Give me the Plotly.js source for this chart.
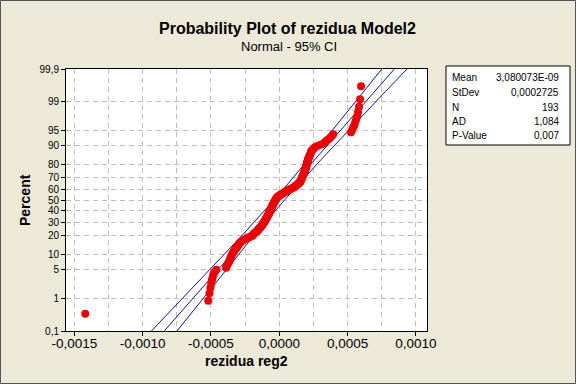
<!DOCTYPE html>
<html><head><meta charset="utf-8">
<script src="https://cdn.plot.ly/plotly-3.0.1.min.js"></script>
<style>html,body{margin:0;padding:0;background:#ECE9D8;}#chart{width:576px;height:384px;}</style>
</head><body><div id="chart"></div>
<script>
const chartTitle = "Probability Plot of rezidua Model2";
const chartSubtitle = "Normal - 95% CI";
const xAxisTitle = "rezidua reg2";
const yAxisTitle = "Percent";

// sorted residuals
const residuals = [
 -1420e-6,-520e-6,-511e-6,-504e-6,-498e-6,-493e-6,-487e-6,-482e-6,-473e-6,-460e-6,
 -390e-6,-384e-6,-377e-6,-370e-6,-364e-6,-360e-6,-356e-6,-353e-6,-349e-6,-345e-6,
 -339e-6,-333e-6,-327e-6,-321e-6,-315e-6,-310e-6,-305e-6,-301e-6,-296e-6,-291e-6,
 -285e-6,-277e-6,-267e-6,-258e-6,-247e-6,-234e-6,-222e-6,-209e-6,-198e-6,-193e-6,
 -187e-6,-181e-6,-175e-6,-169e-6,-163e-6,-157e-6,-153e-6,-149e-6,-145e-6,-141e-6,
 -136e-6,-133e-6,-128e-6,-124e-6,-122e-6,-119e-6,-116e-6,-112e-6,-109e-6,-106e-6,
 -104e-6,-102e-6,-100e-6,-97e-6,-94e-6,-92e-6,-90e-6,-87e-6,-85e-6,-83e-6,
 -81e-6,-78e-6,-75e-6,-73e-6,-71e-6,-70e-6,-67e-6,-66e-6,-64e-6,-62e-6,
 -60e-6,-59e-6,-56e-6,-55e-6,-53e-6,-51e-6,-49e-6,-48e-6,-45e-6,-43e-6,
 -41e-6,-39e-6,-37e-6,-34e-6,-32e-6,-30e-6,-28e-6,-25e-6,-23e-6,-21e-6,
 -18e-6,-15e-6,-10e-6,-5e-6,0,6e-6,12e-6,19e-6,26e-6,32e-6,
 38e-6,45e-6,51e-6,58e-6,67e-6,75e-6,83e-6,92e-6,101e-6,109e-6,
 114e-6,119e-6,124e-6,130e-6,134e-6,139e-6,144e-6,149e-6,152e-6,154e-6,
 157e-6,158e-6,160e-6,163e-6,165e-6,167e-6,168e-6,171e-6,173e-6,175e-6,
 177e-6,179e-6,181e-6,183e-6,185e-6,187e-6,189e-6,190e-6,192e-6,193e-6,
 195e-6,196e-6,198e-6,199e-6,201e-6,203e-6,204e-6,206e-6,207e-6,209e-6,
 210e-6,213e-6,216e-6,219e-6,222e-6,225e-6,228e-6,231e-6,233e-6,236e-6,
 244e-6,252e-6,260e-6,278e-6,302e-6,324e-6,334e-6,345e-6,360e-6,372e-6,
 384e-6,395e-6,525e-6,532e-6,539e-6,547e-6,554e-6,561e-6,569e-6,576e-6,
 583e-6,591e-6,598e-6
];

const xTickVals = [-0.0015,-0.0010,-0.0005,0,0.0005,0.0010];
const xTickText = ["-0,0015","-0,0010","-0,0005","0,0000","0,0005","0,0010"];
const yTickPercents = [0.1,1,5,10,20,30,40,50,60,70,80,90,95,99,99.9];
const yTickText = ["0,1","1","5","10","20","30","40","50","60","70","80","90","95","99","99,9"];

const statLabels = ["Mean","StDev","N","AD","P-Value"];
const statValues = ["3,080073E-09","0,0002725","193","1,084","0,007"];
const fitMean = 3.080073e-9;
const fitStDev = 0.0002725;
const ciLevel = 0.95;

// inverse standard normal CDF (probability scale)
function invNorm(p){
 const a=[-3.969683028665376e+01,2.209460984245205e+02,-2.759285104469687e+02,1.383577518672690e+02,-3.066479806614716e+01,2.506628277459239e+00];
 const b=[-5.447609879822406e+01,1.615858368580409e+02,-1.556989798598866e+02,6.680131188771972e+01,-1.328068155288572e+01];
 const c=[-7.784894002430293e-03,-3.223964580411365e-01,-2.400758277161838e+00,-2.549732539343734e+00,4.374664141464968e+00,2.938163982698783e+00];
 const d=[7.784695709041462e-03,3.224671290700398e-01,2.445134137142996e+00,3.754408661907416e+00];
 const pl=0.02425, ph=1-pl; let q,r;
 if(p<pl){q=Math.sqrt(-2*Math.log(p));return (((((c[0]*q+c[1])*q+c[2])*q+c[3])*q+c[4])*q+c[5])/((((d[0]*q+d[1])*q+d[2])*q+d[3])*q+1);}
 if(p<=ph){q=p-0.5;r=q*q;return (((((a[0]*r+a[1])*r+a[2])*r+a[3])*r+a[4])*r+a[5])*q/(((((b[0]*r+b[1])*r+b[2])*r+b[3])*r+b[4])*r+1);}
 q=Math.sqrt(-2*Math.log(1-p));return -(((((c[0]*q+c[1])*q+c[2])*q+c[3])*q+c[4])*q+c[5])/((((d[0]*q+d[1])*q+d[2])*q+d[3])*q+1);
}

const n = residuals.length;
const sorted = residuals.slice().sort((u,v)=>u-v);
// median-rank plotting positions
const pointZ = sorted.map((_,i)=>invNorm((i+1-0.3)/(n+0.4)));
const pointPct = sorted.map((_,i)=>(i+1-0.3)/(n+0.4)*100);

// fitted line and confidence band
const kz = invNorm(1-(1-ciLevel)/2);
const zGrid = [], fitX = [], loX = [], hiX = [];
for(let z=-3.4; z<=3.4001; z+=0.05){
  const xf = fitMean + fitStDev*z;
  const se = fitStDev*Math.sqrt(1/n + z*z/(2*n));
  zGrid.push(z); fitX.push(xf); loX.push(xf - kz*se); hiX.push(xf + kz*se);
}

const W=576,H=384,ML=66,MR=149,MT=69,MB=53;
const PW=W-ML-MR, PH=H-MT-MB;
const px2x = px => (px-ML)/PW;
const py2y = py => (H-MB-py)/PH;

const FONT = "Liberation Sans, Arial, sans-serif";
const lineColor = "#10109a";
const gridCol = "#bdbdbd";

const traces = [
 {x:loX,y:zGrid,mode:"lines",line:{color:lineColor,width:1},hoverinfo:"skip"},
 {x:fitX,y:zGrid,mode:"lines",line:{color:lineColor,width:1},hoverinfo:"skip"},
 {x:hiX,y:zGrid,mode:"lines",line:{color:lineColor,width:1},hoverinfo:"skip"},
 {x:sorted,y:pointZ,customdata:pointPct,mode:"markers",marker:{color:"#ee0000",size:8,line:{width:0}},cliponaxis:false}
];

const annotations = [
 {text:"<b>"+chartTitle+"</b>",x:px2x(287.5),y:py2y(28),xref:"paper",yref:"paper",xanchor:"center",yanchor:"middle",showarrow:false,font:{family:FONT,size:16,color:"#000"}},
 {text:chartSubtitle,x:px2x(289),y:py2y(46),xref:"paper",yref:"paper",xanchor:"center",yanchor:"middle",showarrow:false,font:{family:FONT,size:13,color:"#000"}},
 {text:"<b>"+xAxisTitle+"</b>",x:px2x(246),y:py2y(361),xref:"paper",yref:"paper",xanchor:"center",yanchor:"middle",showarrow:false,font:{family:FONT,size:14,color:"#000"}},
 {text:"<b>"+yAxisTitle+"</b>",x:px2x(25),y:py2y(200),xref:"paper",yref:"paper",xanchor:"center",yanchor:"middle",textangle:-90,showarrow:false,font:{family:FONT,size:14,color:"#000"}}
];
const rowY = [77.3,92.3,107,121.3,135.7];
statLabels.forEach((lab,i)=>{
 annotations.push({text:lab,x:px2x(450),y:py2y(rowY[i]),xref:"paper",yref:"paper",xanchor:"left",yanchor:"middle",showarrow:false,font:{family:FONT,size:10,color:"#000"}});
 annotations.push({text:statValues[i],x:px2x(561),y:py2y(rowY[i]),xref:"paper",yref:"paper",xanchor:"right",yanchor:"middle",showarrow:false,font:{family:FONT,size:10,color:"#000"}});
});

const layout = {
 width:W,height:H,margin:{l:ML,r:MR,t:MT,b:MB,pad:0},
 paper_bgcolor:"#ECE9D8",plot_bgcolor:"#ffffff",showlegend:false,
 font:{family:FONT,color:"#000"},
 xaxis:{range:[(66-279.3)/136650,(427-279.3)/136650],tickmode:"array",tickvals:xTickVals,ticktext:xTickText,
   ticks:"outside",ticklen:4,tickcolor:"#000",showline:true,mirror:true,linecolor:"#000",linewidth:1,
   ticklabelstandoff:-4,
   showgrid:true,gridcolor:gridCol,griddash:"5px,4px",gridwidth:1,zeroline:false,
   tickfont:{family:FONT,size:13.5,color:"#000"},
   minor:{tickmode:"linear",tick0:0,dtick:0.00025,showgrid:true,gridcolor:gridCol,griddash:"5px,4px",gridwidth:1,ticks:""}},
 yaxis:{range:[invNorm(0.001),invNorm(0.999)],tickmode:"array",tickvals:yTickPercents.map(p=>invNorm(p/100)),ticktext:yTickText,
   ticks:"outside",ticklen:4,tickcolor:"#000",showline:true,mirror:true,linecolor:"#000",linewidth:1,
   showgrid:true,gridcolor:gridCol,griddash:"5px,4px",gridwidth:1,zeroline:false,
   tickfont:{family:FONT,size:10,color:"#000"}},
 annotations:annotations,
 shapes:[
  {type:"rect",xref:"paper",yref:"paper",x0:px2x(446),x1:px2x(570),y0:py2y(145),y1:py2y(66),line:{color:"#000",width:1},fillcolor:"#ffffff",layer:"below"},
  {type:"rect",xref:"paper",yref:"paper",x0:px2x(0.5),x1:px2x(575.5),y0:py2y(383.5),y1:py2y(0.5),line:{color:"#555",width:1},fillcolor:"rgba(0,0,0,0)"}
 ]
};
Plotly.newPlot("chart",traces,layout,{staticPlot:true,displayModeBar:false});
</script></body></html>
